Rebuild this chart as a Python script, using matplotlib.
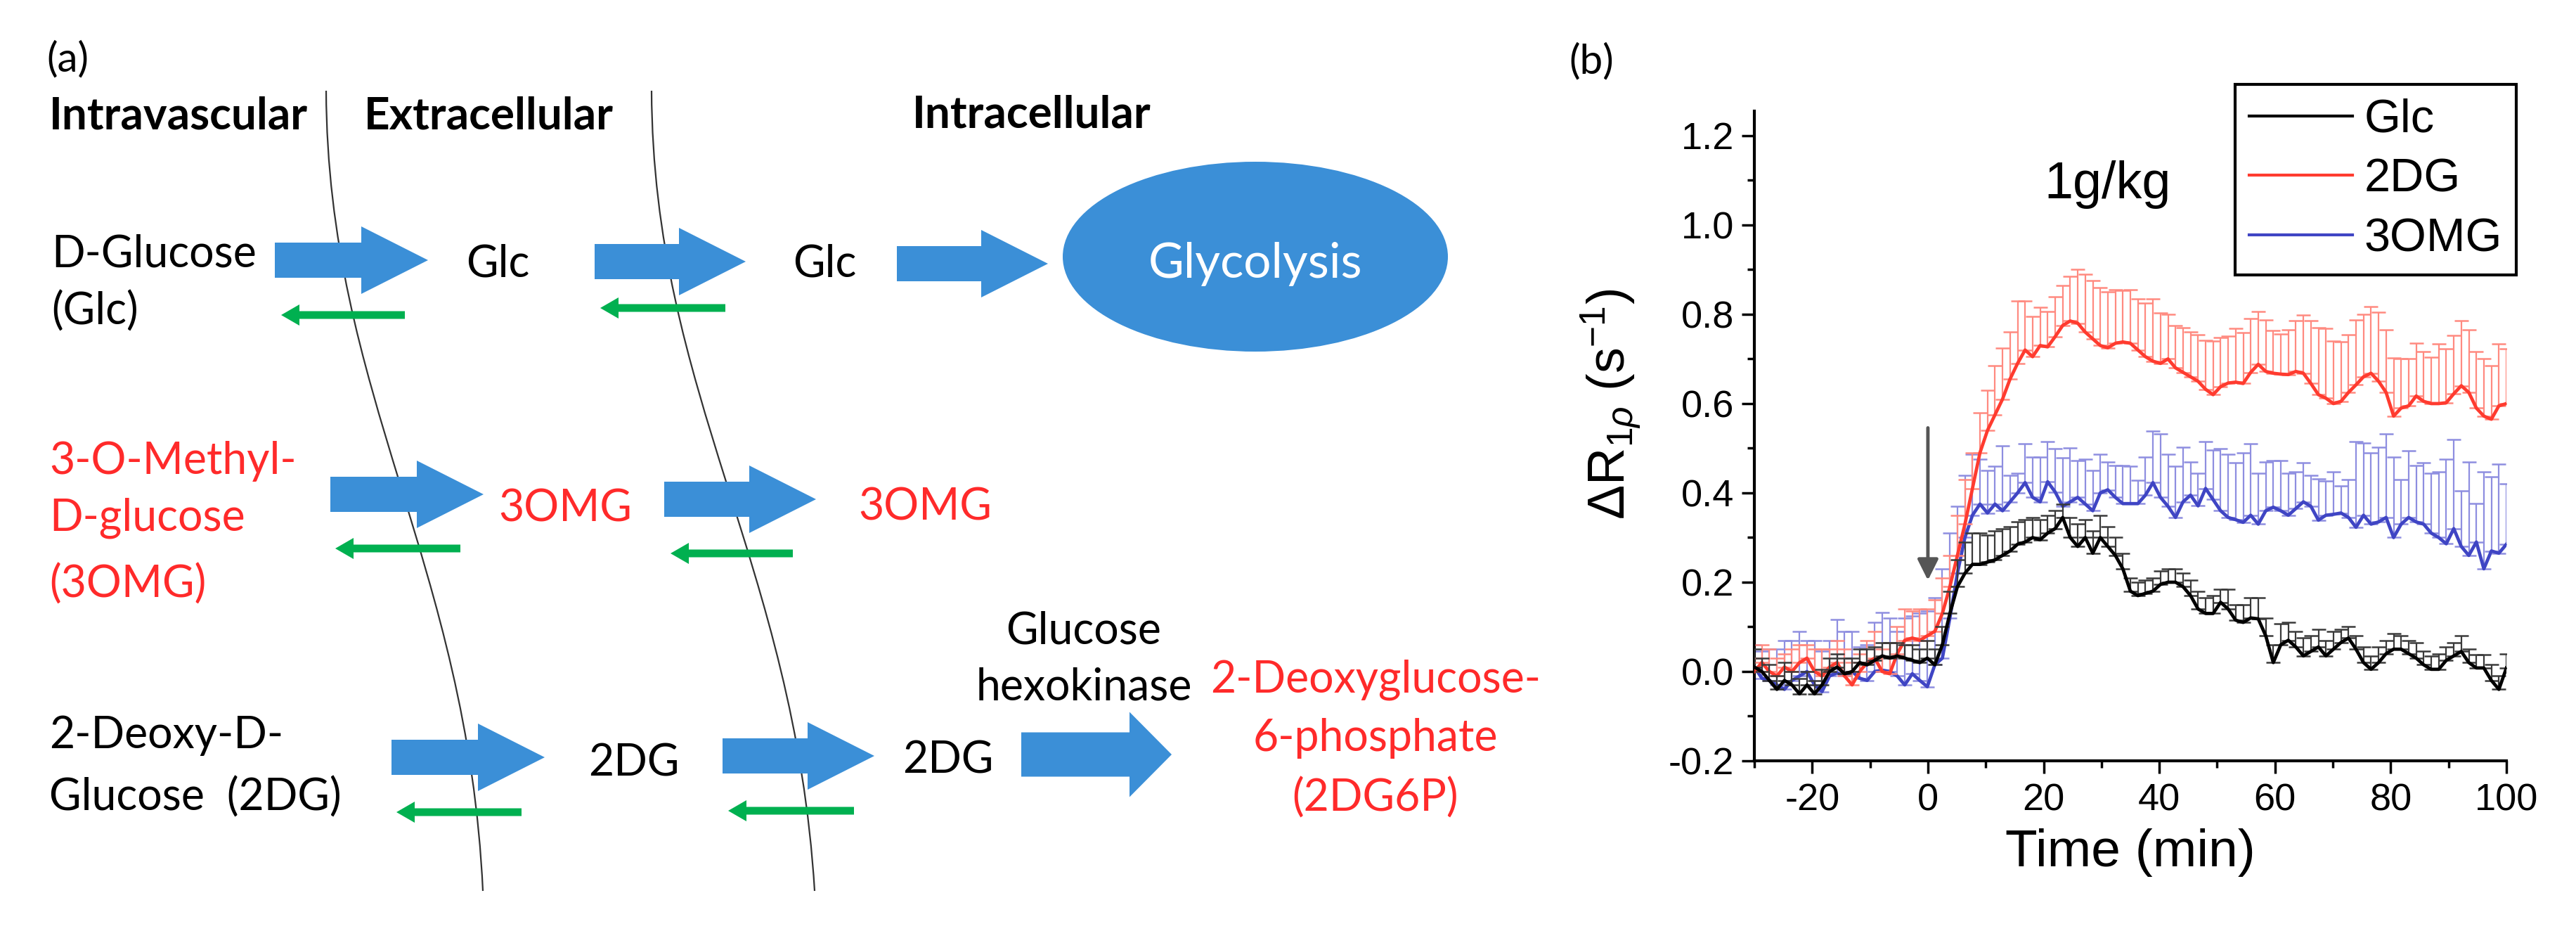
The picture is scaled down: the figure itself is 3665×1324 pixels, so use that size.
import numpy as np
import matplotlib.pyplot as plt
import matplotlib.patches as pat
from matplotlib.path import Path
from matplotlib.lines import Line2D
from matplotlib.ticker import MultipleLocator

plt.rcParams['font.family'] = ['Liberation Sans', 'DejaVu Sans']
plt.rcParams['axes.unicode_minus'] = False
plt.rcParams['mathtext.fontset'] = 'custom'
plt.rcParams['mathtext.rm'] = 'Liberation Sans'
plt.rcParams['mathtext.it'] = 'Liberation Sans:italic'

# ---------------- Datos del panel (b) ----------------
tiempo = np.round(np.arange(-30, 100.05, 1.3), 1)     # minutos

glc_media = [0.010, 0.000, -0.020, -0.040, -0.020, -0.030, -0.050, -0.030, -0.050, -0.030,
             0.000, 0.010, -0.005, 0.000, 0.020, 0.015, 0.025, 0.035, 0.030, 0.035,
             0.030, 0.025, 0.020, 0.030, 0.015, 0.060, 0.130, 0.190, 0.220, 0.240,
             0.240, 0.245, 0.250, 0.260, 0.270, 0.285, 0.290, 0.300, 0.295, 0.310,
             0.320, 0.345, 0.300, 0.280, 0.300, 0.265, 0.300, 0.280, 0.260, 0.230,
             0.180, 0.170, 0.175, 0.180, 0.195, 0.200, 0.200, 0.190, 0.170, 0.140,
             0.130, 0.130, 0.155, 0.140, 0.115, 0.110, 0.120, 0.118, 0.080, 0.020,
             0.060, 0.070, 0.055, 0.035, 0.045, 0.055, 0.035, 0.050, 0.065, 0.075,
             0.050, 0.020, 0.005, 0.020, 0.040, 0.050, 0.050, 0.040, 0.030, 0.015,
             0.005, 0.005, 0.025, 0.035, 0.045, 0.020, 0.008, 0.008, -0.020, -0.040,
             0.008]
glc_err = [0.040, 0.030, 0.035, 0.030, 0.040, 0.030, 0.035, 0.030, 0.030, 0.035,
           0.030, 0.030, 0.035, 0.030, 0.030, 0.035, 0.030, 0.030, 0.035, 0.030,
           0.030, 0.035, 0.030, 0.040, 0.035, 0.040, 0.050, 0.060, 0.070, 0.070,
           0.070, 0.060, 0.065, 0.060, 0.055, 0.050, 0.050, 0.045, 0.045, 0.040,
           0.040, 0.030, 0.045, 0.050, 0.040, 0.050, 0.050, 0.045, 0.040, 0.035,
           0.030, 0.030, 0.030, 0.030, 0.030, 0.030, 0.030, 0.030, 0.035, 0.040,
           0.035, 0.040, 0.030, 0.045, 0.035, 0.040, 0.045, 0.047, 0.040, 0.040,
           0.047, 0.040, 0.035, 0.040, 0.035, 0.040, 0.035, 0.040, 0.030, 0.025,
           0.030, 0.035, 0.030, 0.035, 0.030, 0.035, 0.030, 0.030, 0.035, 0.030,
           0.030, 0.035, 0.030, 0.030, 0.035, 0.030, 0.030, 0.030, 0.035, 0.030,
           0.032]

dg_media = [0.000, 0.020, 0.000, -0.010, 0.010, 0.000, 0.020, 0.030, 0.000, -0.010,
            0.010, 0.020, -0.010, -0.030, 0.000, 0.020, 0.030, 0.000, -0.005, 0.040,
            0.070, 0.075, 0.070, 0.080, 0.090, 0.130, 0.190, 0.260, 0.330, 0.410,
            0.490, 0.540, 0.575, 0.610, 0.655, 0.690, 0.720, 0.705, 0.730, 0.727,
            0.750, 0.775, 0.785, 0.780, 0.760, 0.745, 0.730, 0.725, 0.735, 0.738,
            0.735, 0.720, 0.705, 0.695, 0.690, 0.700, 0.680, 0.670, 0.660, 0.650,
            0.632, 0.620, 0.638, 0.646, 0.648, 0.645, 0.670, 0.688, 0.672, 0.668,
            0.666, 0.665, 0.672, 0.668, 0.645, 0.620, 0.612, 0.600, 0.605, 0.625,
            0.642, 0.660, 0.668, 0.650, 0.625, 0.572, 0.590, 0.595, 0.617, 0.605,
            0.600, 0.600, 0.602, 0.622, 0.640, 0.625, 0.590, 0.572, 0.565, 0.595,
            0.600]
dg_err = [0.030, 0.040, 0.050, 0.040, 0.030, 0.050, 0.040, 0.030, 0.050, 0.060,
          0.040, 0.050, 0.060, 0.050, 0.040, 0.050, 0.060, 0.050, 0.070, 0.060,
          0.070, 0.060, 0.070, 0.060, 0.070, 0.080, 0.070, 0.090, 0.100, 0.080,
          0.090, 0.090, 0.110, 0.115, 0.105, 0.140, 0.110, 0.090, 0.085, 0.080,
          0.090, 0.090, 0.100, 0.120, 0.130, 0.130, 0.130, 0.125, 0.120, 0.116,
          0.120, 0.115, 0.120, 0.140, 0.113, 0.100, 0.095, 0.100, 0.100, 0.104,
          0.110, 0.120, 0.110, 0.105, 0.120, 0.114, 0.120, 0.118, 0.115, 0.095,
          0.090, 0.100, 0.113, 0.130, 0.140, 0.150, 0.157, 0.140, 0.133, 0.130,
          0.146, 0.140, 0.150, 0.155, 0.140, 0.130, 0.110, 0.106, 0.118, 0.112,
          0.104, 0.133, 0.120, 0.130, 0.145, 0.140, 0.127, 0.128, 0.120, 0.138,
          0.122]

omg_media = [0.010, -0.015, -0.020, -0.030, -0.040, -0.020, -0.010, 0.000, -0.030, -0.045,
             -0.010, -0.003, -0.010, 0.000, -0.015, -0.020, 0.000, 0.003, 0.000, -0.010,
             -0.030, -0.005, -0.020, -0.034, 0.015, 0.030, 0.120, 0.220, 0.300, 0.350,
             0.375, 0.355, 0.375, 0.360, 0.380, 0.400, 0.423, 0.390, 0.380, 0.425,
             0.402, 0.370, 0.380, 0.390, 0.375, 0.360, 0.400, 0.407, 0.390, 0.376,
             0.376, 0.376, 0.395, 0.423, 0.390, 0.370, 0.345, 0.380, 0.395, 0.371,
             0.410, 0.385, 0.360, 0.345, 0.340, 0.334, 0.350, 0.330, 0.360, 0.368,
             0.360, 0.350, 0.365, 0.380, 0.370, 0.339, 0.350, 0.352, 0.355, 0.345,
             0.323, 0.350, 0.330, 0.335, 0.345, 0.300, 0.330, 0.345, 0.335, 0.330,
             0.310, 0.300, 0.286, 0.320, 0.280, 0.260, 0.290, 0.230, 0.270, 0.265,
             0.285]
omg_err = [0.050, 0.060, 0.070, 0.080, 0.110, 0.090, 0.100, 0.070, 0.100, 0.090,
           0.080, 0.120, 0.100, 0.090, 0.070, 0.080, 0.110, 0.130, 0.120, 0.100,
           0.150, 0.130, 0.150, 0.170, 0.150, 0.200, 0.190, 0.150, 0.140, 0.136,
           0.100, 0.095, 0.085, 0.145, 0.060, 0.044, 0.087, 0.090, 0.100, 0.090,
           0.097, 0.108, 0.120, 0.083, 0.100, 0.090, 0.086, 0.063, 0.072, 0.086,
           0.084, 0.052, 0.086, 0.115, 0.143, 0.116, 0.115, 0.122, 0.075, 0.073,
           0.105, 0.111, 0.139, 0.141, 0.128, 0.156, 0.160, 0.114, 0.110, 0.105,
           0.113, 0.094, 0.082, 0.087, 0.069, 0.092, 0.076, 0.095, 0.060, 0.085,
           0.192, 0.162, 0.159, 0.167, 0.188, 0.180, 0.100, 0.149, 0.127, 0.138,
           0.134, 0.147, 0.189, 0.200, 0.124, 0.210, 0.086, 0.217, 0.166, 0.200,
           0.135]

series = ["Glc", "2DG", "3OMG"]
colores = {"Glc": "black", "2DG": "#ff3b2f", "3OMG": "#3f45c4"}
colores_err = {"Glc": "#3a3a3a", "2DG": "#ff8a80", "3OMG": "#8e8ee0"}

# ---------------- Figura ----------------
W, H = 3666, 1324
fig = plt.figure(figsize=[W/100, H/100], dpi=100)

# Panel (a): un eje que ocupa toda la figura, en pixeles
ax0 = fig.add_axes([0, 0, 1, 1])
ax0.set_xlim(0, W)
ax0.set_ylim(H, 0)
ax0.axis('off')

AZUL = "#3b8fd7"
VERDE = "#00b050"
ROJO = "#ff2a2a"
FUENTE_A = ['Lato', 'DejaVu Sans']
TAM = 45      # tamaño de letra del esquema


def Flecha_Azul(x0, x1, yc, ancho=50, cabeza=96, largo_cabeza=95):
    ar = pat.FancyArrow(x0, yc, x1 - x0, 0, width=ancho, head_width=cabeza,
                        head_length=largo_cabeza, length_includes_head=True,
                        color=AZUL, lw=0)
    ax0.add_patch(ar)


def Flecha_Verde(x_punta, x_cola, yc):
    ar = pat.FancyArrow(x_cola, yc, x_punta - x_cola, 0, width=11, head_width=30,
                        head_length=26, length_includes_head=True, color=VERDE, lw=0)
    ax0.add_patch(ar)


def Curva(p0, p1, p2, p3):
    camino = Path([p0, p1, p2, p3], [Path.MOVETO, Path.CURVE4, Path.CURVE4, Path.CURVE4])
    ax0.add_patch(pat.PathPatch(camino, fill=False, edgecolor="#333333", lw=1.6))


def Texto(x, y, s, color="black", size=TAM, weight="normal", ha="left"):
    ax0.text(x, y, s, color=color, fontsize=size, fontweight=weight, ha=ha,
             va="baseline", family=FUENTE_A)


# membranas
Curva((464, 129), (466, 560), (665, 800), (687, 1267))
Curva((927, 129), (929, 560), (1130, 800), (1159, 1267))

# flechas azules: (x inicio, x punta, y centro)
for x0, x1, yc in [(391, 609, 370), (846, 1061, 372), (1276, 1491, 375),
                   (470, 688, 703), (945, 1161, 710),
                   (557, 775, 1077), (1028, 1244, 1075)]:
    Flecha_Azul(x0, x1, yc)
Flecha_Azul(1453, 1667, 1073, ancho=63, cabeza=121, largo_cabeza=60)

# flechas verdes (vuelta)
for xp, xc, yc in [(400, 576, 448), (854, 1032, 438), (477, 655, 780),
                   (954, 1128, 787), (564, 742, 1155), (1036, 1215, 1153)]:
    Flecha_Verde(xp, xc, yc)

# glucolisis
ax0.add_patch(pat.Ellipse((1786, 365), 548, 270, color=AZUL, lw=0))
Texto(1786, 395, "Glycolysis", color="white", size=50, ha="center")

Texto(66, 101, "(a)", size=42)
Texto(2232, 104, "(b)", size=42)
Texto(70, 183, "Intravascular", weight="bold", size=46)
Texto(518, 183, "Extracellular", weight="bold", size=46)
Texto(1298, 181, "Intracellular", weight="bold", size=46)

Texto(73, 379, "D-Glucose")
Texto(73, 462, "(Glc)")
Texto(663, 393, "Glc")
Texto(1128, 393, "Glc")

Texto(70, 674, "3-O-Methyl-", color=ROJO)
Texto(70, 755, "D-glucose", color=ROJO)
Texto(70, 850, "(3OMG)", color=ROJO)
Texto(709, 742, "3OMG", color=ROJO)
Texto(1221, 740, "3OMG", color=ROJO)

Texto(70, 1064, "2-Deoxy-D-")
Texto(70, 1153, "Glucose  (2DG)")
Texto(837, 1104, "2DG")
Texto(1284, 1099, "2DG")
Texto(1542, 915, "Glucose", ha="center")
Texto(1542, 996, "hexokinase", ha="center")
Texto(1957, 985, "2-Deoxyglucose-", color=ROJO, ha="center")
Texto(1957, 1068, "6-phosphate", color=ROJO, ha="center")
Texto(1957, 1154, "(2DG6P)", color=ROJO, ha="center")

# ---------------- Panel (b) ----------------
ax = fig.add_axes([2496/W, 1 - 1082/H, (3566 - 2496)/W, (1082 - 158)/H])

datos = {"Glc": (glc_media, glc_err), "2DG": (dg_media, dg_err), "3OMG": (omg_media, omg_err)}
orden = ["3OMG", "2DG", "Glc"]
for k, nombre in enumerate(orden):
    media, err = datos[nombre]
    media = np.array(media)
    err = np.array(err)
    ax.errorbar(tiempo, media, yerr=[np.zeros_like(err), err], fmt='none',
                ecolor=colores_err[nombre], elinewidth=1.6, capsize=7, capthick=1.8,
                zorder=2 + 2*k)
    ax.plot(tiempo, media, color=colores[nombre], lw=3.4, zorder=3 + 2*k)

ax.set_xlim(-30, 100)
ax.set_ylim(-0.2, 1.255)
ax.spines['top'].set_visible(False)
ax.spines['right'].set_visible(False)
for s in ['left', 'bottom']:
    ax.spines[s].set_linewidth(3)
ax.xaxis.set_major_locator(MultipleLocator(20))
ax.xaxis.set_minor_locator(MultipleLocator(10))
ax.yaxis.set_major_locator(MultipleLocator(0.2))
ax.yaxis.set_minor_locator(MultipleLocator(0.1))
ax.yaxis.set_major_formatter(plt.FuncFormatter(lambda v, p: "%.1f" % v))
ax.tick_params(which='major', length=13, width=2.5, labelsize=39)
ax.tick_params(which='minor', length=7, width=2.5)
ax.tick_params(axis='x', which='major', pad=10)
ax.tick_params(axis='y', which='major', pad=8)
ax.set_xlabel("Time (min)", fontsize=54, labelpad=10)

fig.text(2292/W, 1 - 575/H, r'$\Delta$R$_{1\rho}$ (s$^{-1}$)', rotation=90,
         ha='center', va='center', fontsize=53)

ax.text(31, 1.09, "1g/kg", ha='center', va='center', fontsize=53)
ax.annotate('', xy=(0, 0.2), xytext=(0, 0.55),
            arrowprops=dict(arrowstyle='-|>', color='#555555', lw=3.5, mutation_scale=45))

manejadores = [Line2D([], [], color=colores[n], lw=3) for n in series]
leg = fig.legend(manejadores, series, loc='upper left',
                 bbox_to_anchor=(3180/W, 1 - 120/H), bbox_transform=fig.transFigure,
                 frameon=True, fancybox=False, edgecolor='black', framealpha=1,
                 borderpad=0.3, handlelength=2.2, handletextpad=0.25,
                 labelspacing=0.34, borderaxespad=0, fontsize=48)
leg.get_frame().set_linewidth(3)

plt.savefig("out.png", dpi=100)
